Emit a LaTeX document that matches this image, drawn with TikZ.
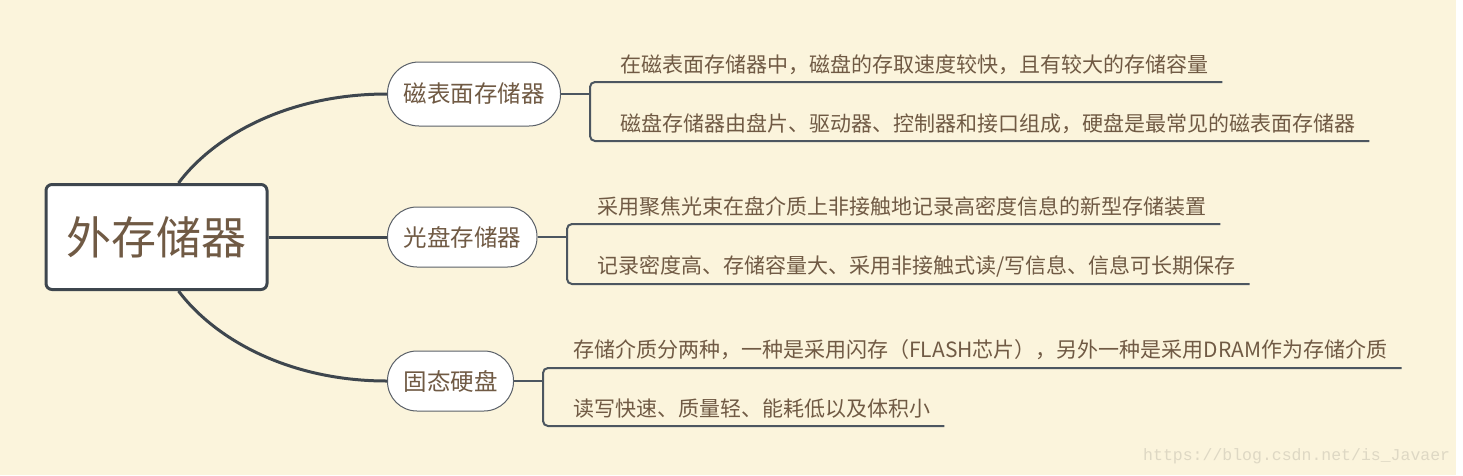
\documentclass[tikz,border=0pt]{standalone}
\usepackage{fontspec}
\usepackage{xcolor}
\usepackage{tikz}
\usetikzlibrary{calc}
\newfontfamily\cjk{Noto Sans CJK SC}
\setmonofont{Liberation Mono}
\definecolor{paper}{RGB}{251,244,220}
\definecolor{ink}{RGB}{112,90,68}
\definecolor{trunk}{RGB}{62,70,78}
\definecolor{rulecol}{RGB}{76,86,96}
\definecolor{pillline}{RGB}{90,96,104}
\definecolor{faint}{RGB}{222,216,196}

\begin{document}
\begin{tikzpicture}[x=1pt,y=-1pt,
    rootbox/.style={draw=trunk, line width=3pt, fill=white, rounded corners=6pt,
        minimum width=221pt, minimum height=105pt, inner sep=0pt, text=ink,
        font=\cjk\fontsize{45}{54}\selectfont},
    pill/.style={draw=pillline, line width=1pt, fill=white, rounded corners=29.5pt,
        minimum height=60pt, inner xsep=16pt, inner ysep=0pt, anchor=west, text=ink,
        font=\cjk\fontsize{23.5}{28}\selectfont},
    leaf/.style={anchor=west, inner sep=0pt, text=ink,
        font=\cjk\fontsize{21}{26}\selectfont},
    trunkline/.style={draw=trunk, line width=3pt},
    bracket/.style={draw=rulecol, line width=2pt, rounded corners=5pt}]
    \useasboundingbox (0,0) rectangle (1463,475);
    \fill[white] (0,0) rectangle (1463,475);
    \fill[paper] (0,0) rectangle (1456,475);

    \node[rootbox] (root) at (156.5,237) {外存储器};
    \node[pill, minimum height=64pt, rounded corners=31.5pt] (b1) at (387,94) {磁表面存储器};
    \node[pill] (b2) at (387,237) {光盘存储器};
    \node[pill] (b3) at (387,381) {固态硬盘};

    \draw[trunkline] ([xshift=22pt]root.north) .. controls +(37,-49) and +(-97,0) .. (b1.west);
    \draw[trunkline] (root.east) -- (b2.west);
    \draw[trunkline] ([xshift=22pt]root.south) .. controls +(37,49) and +(-97,0) .. (b3.west);

    \coordinate (k1) at (590,94);
    \coordinate (k2) at (567,236);
    \coordinate (k3) at (543,378);

    \node[leaf] (l1a) at (620,65) {在磁表面存储器中，磁盘的存取速度较快，且有较大的存储容量};
    \node[leaf] (l1b) at (620,124) {磁盘存储器由盘片、驱动器、控制器和接口组成，硬盘是最常见的磁表面存储器};
    \node[leaf] (l2a) at (597,207) {采用聚焦光束在盘介质上非接触地记录高密度信息的新型存储装置};
    \node[leaf] (l2b) at (597,266) {记录密度高、存储容量大、采用非接触式读/写信息、信息可长期保存};
    \node[leaf] (l3a) at (573,350) {存储介质分两种，一种是采用闪存（FLASH芯片），另外一种是采用DRAM作为存储介质};
    \node[leaf] (l3b) at (573,409) {读写快速、质量轻、能耗低以及体积小};

    \coordinate (u1a) at ($(l1a.east)+(14,17)$);
    \coordinate (u1b) at ($(l1b.east)+(14,17)$);
    \coordinate (u2a) at ($(l2a.east)+(14,17)$);
    \coordinate (u2b) at ($(l2b.east)+(14,18)$);
    \coordinate (u3a) at ($(l3a.east)+(14,18)$);
    \coordinate (u3b) at ($(l3b.east)+(14,17)$);

    \draw[bracket] (b1.east) -- (b1.east -| k1);
    \draw[bracket] (u1a) -- (u1a -| k1) -- (u1b -| k1) -- (u1b);
    \draw[bracket] (b2.east) -- (b2.east -| k2);
    \draw[bracket] (u2a) -- (u2a -| k2) -- (u2b -| k2) -- (u2b);
    \draw[bracket] (b3.east) -- (b3.east -| k3);
    \draw[bracket] (u3a) -- (u3a -| k3) -- (u3b -| k3) -- (u3b);

    \node[anchor=west, inner sep=0pt, text=faint, font=\ttfamily\fontsize{16.5}{20}\selectfont]
        (wm) at (1143,456) {https://blog.csdn.net/is\_Javaer};
\end{tikzpicture}
\end{document}
